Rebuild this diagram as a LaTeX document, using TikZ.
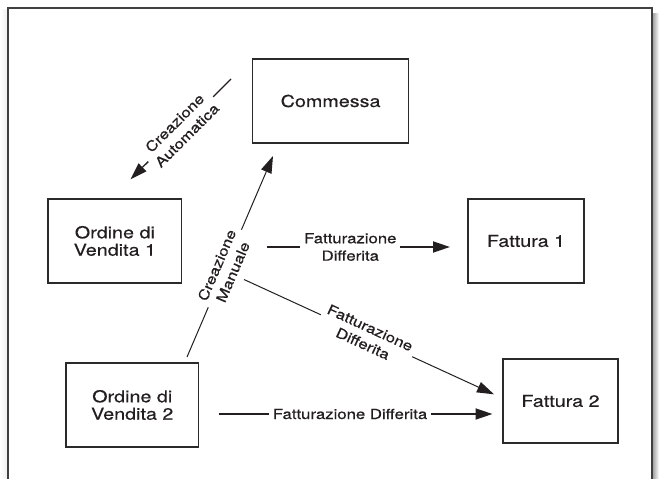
\documentclass[tikz,border=0pt]{standalone}
\usepackage{fontspec}
\setmainfont{TeX Gyre Heros}[FakeStretch=1.2,FakeBold=0.4]
\usetikzlibrary{arrows.meta,calc}
\definecolor{txt}{HTML}{231F20}
\definecolor{boxc}{HTML}{2A2A2A}
\definecolor{framec}{HTML}{404040}
\newcommand{\boxfont}{\fontsize{16.5}{17.5}\selectfont}
\newcommand{\lblfont}{\fontsize{14}{17.5}\selectfont}
\begin{document}
\begin{tikzpicture}[x=1bp,y=-1bp,
  box/.style={draw=boxc, line width=1.5bp, inner sep=0pt, align=center, font=\boxfont, text=txt},
  lbl/.style={fill=white, align=center, font=\lblfont, inner sep=4bp, text=txt},
  conn/.style={draw=txt, line width=1bp, -{Triangle[length=17bp,width=11bp]}},
  heavy/.style={conn, line width=1.8bp},
]
\useasboundingbox (0,0) rectangle (659,479);
% frame and shadow
\shade[left color=gray!70, right color=white] (653,14) rectangle (659,479);
\shade[left color=white, right color=gray!12] (0,10) rectangle (7,479);
\draw[framec, line width=2.4bp] (8,482) -- (8,8) -- (652,8) -- (652,482);
% boxes
\node[box, minimum width=156bp, minimum height=84bp] (com) at (330.6,101) {Commessa};
\node[box, minimum width=133.7bp, minimum height=84bp] (ov1) at (114.85,241) {Ordine di\\Vendita 1};
\node[box, minimum width=116bp, minimum height=84bp] (fa1) at (526,241) {Fattura 1};
\node[box, minimum width=132.5bp, minimum height=84bp] (ov2) at (132.25,405) {Ordine di\\Vendita 2};
\node[box, minimum width=115bp, minimum height=84bp] (fa2) at (560.5,401) {Fattura 2};
% connector ends
\coordinate (ca1) at (231,79);
\coordinate (ca2) at (130.5,179.3);
\coordinate (cm1) at (187,357);
\coordinate (cm2) at (273,156);
\coordinate (f11) at (267,247);
\coordinate (f12) at (450,247);
\coordinate (fd1) at (244,279.5);
\coordinate (fd2) at (494,394.3);
\coordinate (f21) at (218.5,414);
\coordinate (f22) at (492.5,414);
% connectors
\draw[conn, line width=1.3bp] (ca1) -- node[lbl, sloped, pos=0.5] {Creazione\\Automatica} (ca2);
\draw[conn] (cm1) -- node[lbl, sloped, pos=0.44] {Creazione\\Manuale} (cm2);
\draw[heavy] (f11) -- node[lbl, pos=0.455] {Fatturazione\\Differita} (f12);
\draw[conn] (fd1) -- node[lbl, sloped, pos=0.49] {Fatturazione\\Differita} (fd2);
\draw[heavy] (f21) -- node[lbl, pos=0.48] {Fatturazione Differita} (f22);
\end{tikzpicture}
\end{document}
